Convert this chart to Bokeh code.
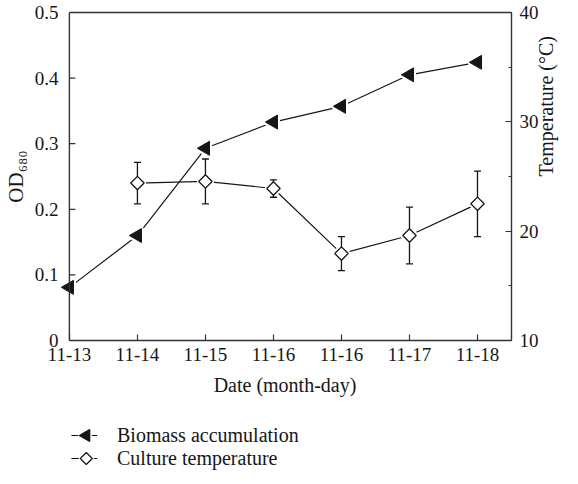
import math
from bokeh.plotting import figure
from bokeh.layouts import column
from bokeh.models import (Range1d, LinearAxis, FixedTicker, SingleIntervalTicker, Span,
                          Legend, LegendItem, CustomJSTickFormatter, ColumnDataSource)
from bokeh.embed import file_html
from bokeh.resources import INLINE

# ---------------- data ----------------
dates = ["11-13", "11-14", "11-15", "11-16", "11-16", "11-17", "11-18"]
biomass_od = [0.081, 0.160, 0.293, 0.333, 0.357, 0.405, 0.424]
temperature = [24.4, 24.55, 23.9, 17.95, 19.6, 22.5]      # from 11-14 on
temperature_err = [1.9, 2.05, 0.8, 1.55, 2.6, 3.0]
od_ticks = [0, 0.1, 0.2, 0.3, 0.4, 0.5]
temp_ticks = [10, 20, 30, 40]
series_names = ["Biomass accumulation", "Culture temperature"]

# ---------------- style / layout ----------------
FONT = "Liberation Serif"
INK = "#161616"
AX = "#333333"
W, H = 570, 406
LB, RB, TB, BB = 57, 56, 12, 66
PX_PER_UNIT = 68.6
X_PAD = -11 / PX_PER_UNIT
X_END = len(dates) - 0.5

TRI = dict(marker="triangle", angle=math.pi / 2)
DIA = dict(marker="square", angle=math.pi / 4)

p = figure(width=W, height=H, min_border_left=LB, min_border_right=RB,
           min_border_top=TB, min_border_bottom=BB,
           x_range=Range1d(X_PAD, X_END),
           y_range=Range1d(od_ticks[0], od_ticks[-1]),
           output_backend="svg", toolbar_location=None,
           background_fill_color="white", border_fill_color="white")
p.extra_y_ranges = {"temp": Range1d(temp_ticks[0], temp_ticks[-1])}
p.grid.visible = False
p.outline_line_color = None

xs = list(range(len(dates)))
bio = ColumnDataSource(dict(x=xs, y=biomass_od))
tx = xs[len(dates) - len(temperature):]
tsrc = ColumnDataSource(dict(
    x=tx, y=temperature,
    lo=[t - e for t, e in zip(temperature, temperature_err)],
    hi=[t + e for t, e in zip(temperature, temperature_err)]))

# left axis line drawn at x = 0 (frame is a little wider so the first marker is not cut)
p.add_layout(Span(location=0, dimension="height", line_color=AX, line_width=1.4))
tick_len = 6 / PX_PER_UNIT
p.segment(x0=[0] * len(od_ticks), y0=od_ticks, x1=[tick_len] * len(od_ticks), y1=od_ticks,
          line_color=AX, line_width=1.2)

# lines
p.line("x", "y", source=tsrc, y_range_name="temp", line_color=INK, line_width=1.2)
p.line("x", "y", source=bio, line_color=INK, line_width=1.2)
# white halos to create small gaps around markers
p.scatter("x", "y", source=bio, size=14, fill_color="white", line_color="white", line_width=5, **TRI)
p.scatter("x", "y", source=tsrc, y_range_name="temp", size=9.5,
          fill_color="white", line_color="white", line_width=5, **DIA)
# error bars
p.segment(x0="x", y0="lo", x1="x", y1="hi", source=tsrc, y_range_name="temp",
          line_color=INK, line_width=1.3)
p.scatter("x", "lo", source=tsrc, y_range_name="temp", marker="dash", size=7,
          line_color=INK, line_width=1.3)
p.scatter("x", "hi", source=tsrc, y_range_name="temp", marker="dash", size=7,
          line_color=INK, line_width=1.3)
# markers
p.scatter("x", "y", source=bio, size=14, fill_color=INK, line_color=INK, line_width=1, **TRI)
p.scatter("x", "y", source=tsrc, y_range_name="temp", size=9.5,
          fill_color="white", line_color=INK, line_width=1.3, **DIA)

# ---------------- axes ----------------
def style_axis(ax, size="19px"):
    ax.axis_line_color = AX
    ax.axis_line_width = 1.4
    ax.major_tick_line_color = AX
    ax.minor_tick_line_color = AX
    ax.major_tick_line_width = 1.2
    ax.minor_tick_line_width = 1.2
    ax.major_tick_in = 6
    ax.major_tick_out = 0
    ax.minor_tick_in = 0
    ax.minor_tick_out = 0
    ax.major_label_text_font = FONT
    ax.major_label_text_font_size = size
    ax.major_label_text_color = INK
    ax.axis_label_text_font = FONT
    ax.axis_label_text_font_style = "normal"
    ax.axis_label_text_color = INK

yl = p.yaxis[0]
style_axis(yl)
yl.ticker = FixedTicker(ticks=od_ticks)
yl.formatter = CustomJSTickFormatter(code="return tick == 0 ? '0' : tick.toFixed(1);")
yl.axis_line_color = None
yl.major_tick_in = 0
yl.major_label_standoff = 0
yl.axis_label = "OD₆₈₀"
yl.axis_label_text_font_size = "21px"
yl.axis_label_standoff = 4

xa = p.xaxis[0]
style_axis(xa)
xa.ticker = FixedTicker(ticks=xs)
xa.major_label_overrides = {i: d for i, d in enumerate(dates)}
xa.bounds = (0, X_END)
xa.major_label_standoff = 7
xa.axis_label = "Date (month-day)"
xa.axis_label_text_font_size = "20px"
xa.axis_label_standoff = 10

yr = LinearAxis(y_range_name="temp", ticker=SingleIntervalTicker(interval=10, num_minor_ticks=2))
style_axis(yr)
yr.minor_tick_in = 3
yr.major_label_standoff = 8
yr.axis_label = "Temperature (°C)"
yr.axis_label_text_font_size = "20px"
yr.axis_label_standoff = 4
yr.axis_label_orientation = math.pi / 2
p.add_layout(yr, "right")

top = LinearAxis(ticker=FixedTicker(ticks=[]))
style_axis(top)
top.major_tick_in = 0
top.bounds = (0, X_END)
top.major_label_text_font_size = "0px"
p.add_layout(top, "above")

# ---------------- legend strip below the chart ----------------
LH = 476 - H
leg = figure(width=W, height=LH, min_border_left=LB, min_border_right=RB,
             min_border_top=0, min_border_bottom=0,
             x_range=Range1d(X_PAD, X_END), y_range=Range1d(0, LH),
             x_axis_location=None, y_axis_location=None,
             output_backend="svg", toolbar_location=None,
             background_fill_color="white", border_fill_color="white")
leg.grid.visible = False
leg.outline_line_color = None

def lx(page_x):      # page pixel -> shared x data coordinate
    return (page_x - 76) / PX_PER_UNIT

row_y = [LH - 29, LH - 52]          # key rows, pixels from strip bottom
key_x0, key_x1, key_mx = lx(78), lx(104), lx(93)
for ry, shape, fill, sz in [(row_y[0], TRI, INK, 12), (row_y[1], DIA, "white", 8.5)]:
    leg.line(x=[key_x0, key_x1], y=[ry, ry], line_color=INK, line_width=1.2)
    leg.scatter(x=[key_mx], y=[ry], size=sz, fill_color="white", line_color="white",
                line_width=4, **shape)
    leg.scatter(x=[key_mx], y=[ry], size=sz, fill_color=fill, line_color=INK,
                line_width=1.2, **shape)

# text entries of the legend (their own key glyphs are transparent; keys drawn above)
ghost_b = leg.line("x", "y", source=bio, line_alpha=0)
ghost_t = leg.line("x", "y", source=tsrc, line_alpha=0)
legend = Legend(items=[
    LegendItem(label=series_names[0], renderers=[ghost_b]),
    LegendItem(label=series_names[1], renderers=[ghost_t]),
], location=(12, 6), orientation="vertical",
    glyph_width=27, glyph_height=23, label_height=23, spacing=0,
    padding=0, margin=0, border_line_color=None, background_fill_alpha=0,
    label_text_font=FONT, label_text_font_size="20px", label_text_color=INK,
    label_standoff=20)
leg.add_layout(legend)

open("out.html", "w").write(file_html(column(p, leg, spacing=0), INLINE))
